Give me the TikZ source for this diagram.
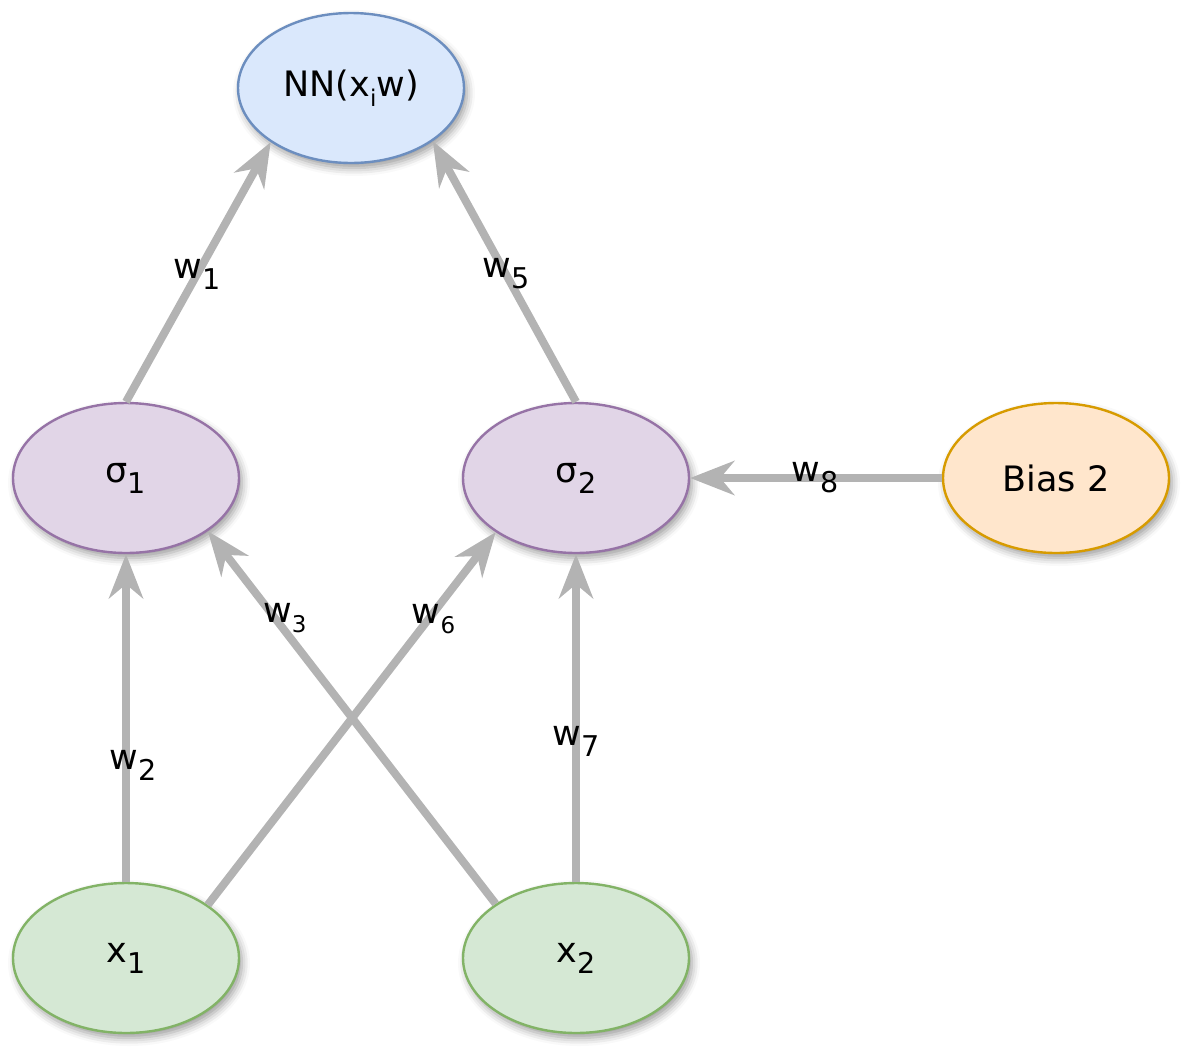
\documentclass[tikz,border=0pt]{standalone}
\usepackage{fontspec}
\setmainfont{DejaVu Sans}
\usetikzlibrary{shapes.geometric,arrows.meta,shadows,shadows.blur}
\definecolor{nnfill}{HTML}{DAE8FC}\definecolor{nnline}{HTML}{6C8EBF}
\definecolor{sgfill}{HTML}{E1D5E7}\definecolor{sgline}{HTML}{9673A6}
\definecolor{bsfill}{HTML}{FFE6CC}\definecolor{bsline}{HTML}{D79B00}
\definecolor{xxfill}{HTML}{D5E8D4}\definecolor{xxline}{HTML}{82B366}
\definecolor{edgegray}{HTML}{B3B3B3}
\newcommand{\lsub}[1]{\raisebox{-5.5pt}{\fontsize{14.3pt}{15pt}\selectfont #1}}
\newcommand{\ssub}[1]{\raisebox{-5pt}{\fontsize{11.5pt}{12pt}\selectfont #1}}
\tikzset{
  nd/.style={ellipse, draw, line width=1.2pt, minimum width=113pt, minimum height=75pt,
    inner sep=0pt, font=\fontsize{17.5pt}{20pt}\selectfont,
    blur shadow={shadow xshift=1.5pt, shadow yshift=-2.5pt, shadow blur radius=4pt, shadow opacity=40}},
  conn/.style={draw=edgegray, line width=4pt, -{Stealth[length=22pt,width=17pt,inset=7pt,fill=edgegray]}},
  lbl/.style={font=\fontsize{17.5pt}{20pt}\selectfont, inner sep=0pt, text=black}
}
\begin{document}
\begin{tikzpicture}[x=0.5pt,y=-0.5pt]
\useasboundingbox (0,0) rectangle (1188,1056);
\node[nd, fill=nnfill, draw=nnline] (nn) at (351,88) {NN(x\ssub{i}w)};
\node[nd, fill=sgfill, draw=sgline] (s1) at (126,478) {σ\lsub{1}};
\node[nd, fill=sgfill, draw=sgline] (s2) at (576,478) {σ\lsub{2}};
\node[nd, fill=bsfill, draw=bsline] (b2) at (1056,478) {Bias 2};
\node[nd, fill=xxfill, draw=xxline] (x1) at (126,958) {x\lsub{1}};
\node[nd, fill=xxfill, draw=xxline] (x2) at (576,958) {x\lsub{2}};

\draw[conn] (s1.north) -- node[lbl,pos=0.49]{w\lsub{1}} (nn.-146.5);
\draw[conn] (s2.north) -- node[lbl,pos=0.49]{w\lsub{5}} (nn.-33.5);
\draw[conn] (x1.north) -- node[lbl,pos=0.355,xshift=3.5pt]{w\lsub{2}} (s1.south);
\draw[conn] (x2.146.5) -- node[lbl,pos=0.767,xshift=5pt]{w\ssub{3}} (s1.-33.5);
\draw[conn] (x1.33.5) -- node[lbl,pos=0.767,xshift=2.5pt]{w\ssub{6}} (s2.-146.5);
\draw[conn] (x2.north) -- node[lbl,pos=0.43]{w\lsub{7}} (s2.south);
\draw[conn] (b2.west) -- node[lbl,pos=0.504]{w\lsub{8}} (s2.east);
\end{tikzpicture}
\end{document}
